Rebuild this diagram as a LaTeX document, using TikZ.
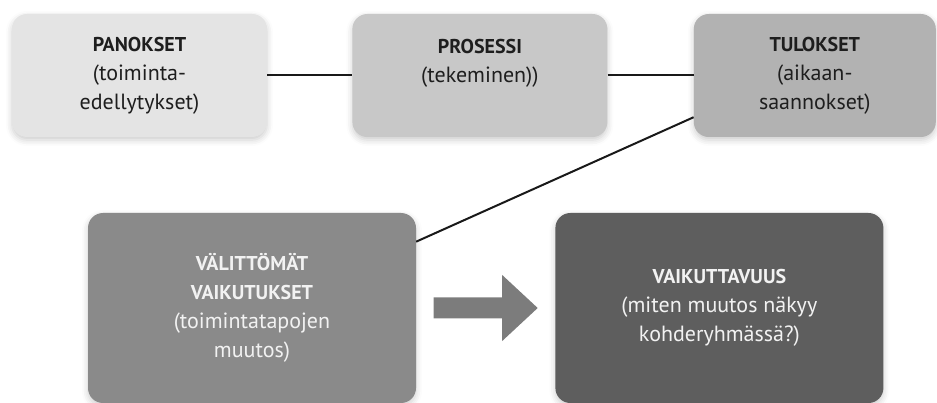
\documentclass[tikz,border=0pt]{standalone}
\usepackage{fontspec}
\setmainfont{PT Sans}
\usetikzlibrary{positioning}
\usetikzlibrary{calc}
\usetikzlibrary{shadows.blur}
\definecolor{panos}{HTML}{E4E4E4}
\definecolor{prosessi}{HTML}{C8C8C8}
\definecolor{tulos}{HTML}{B2B2B2}
\definecolor{valiton}{HTML}{8A8A8A}
\definecolor{vaikutus}{HTML}{5E5E5E}
\definecolor{virta}{HTML}{7C7C7C}
\definecolor{darktext}{HTML}{1E1E1E}
\definecolor{lighttext}{HTML}{F2F2F2}
\newcommand{\stagetitle}[1]{{\bfseries\fontsize{20}{29}\selectfont #1}}
\tikzset {
  stage/.style = {
    rounded corners = 15pt,
    align = center,
    inner sep = 0,
    font = \fontsize{22}{29}\selectfont,
    blur shadow = {shadow xshift = 0pt, shadow yshift = -3pt,
      shadow blur radius = 6pt, shadow opacity = 20}
  },
  % upper row
  upper/.style = {
    stage,
    minimum width = 255pt,
    minimum height = 123pt,
    text = darktext
  },
  % lower row
  lower/.style = {
    stage,
    minimum width = 328pt,
    minimum height = 190pt,
    text = lighttext
  },
  link/.style = {
    draw = black!90,
    line width = 2pt
  },
  flow/.style = {
    fill = virta
  },
  node distance = 85pt
}
\begin{document}
\begin{tikzpicture}[x=1pt, y=1pt]
    \useasboundingbox (0,0) rectangle (937,-403);
    \node[upper, fill=panos] (panokset) at (139.5,-75.5) {\stagetitle{PANOKSET}\\(toiminta-\\edellytykset)};
    \node[upper, fill=prosessi] (prosessi) [right=of panokset] {\stagetitle{PROSESSI}\\(tekeminen))\\\mbox{}};
    \node[upper, fill=tulos, minimum width=242pt] (tulokset) [right=86pt of prosessi] {\stagetitle{TULOKSET}\\(aikaan-\\saannokset)};
    \node[lower, fill=valiton] (valittomat) at (252,-308) {\stagetitle{VÄLITTÖMÄT}\\\stagetitle{VAIKUTUKSET}\\(toimintatapojen\\muutos)};
    \node[lower, fill=vaikutus, yshift=0pt] (vaikuttavuus) [right=139pt of valittomat] {\stagetitle{VAIKUTTAVUUS}\\(miten muutos näkyy\\kohderyhmässä?)};
    \coordinate (virta) at ($(valittomat.east)!0.5!(vaikuttavuus.west)$);

    \draw[link] (panokset) -- (prosessi);
    \draw[link] (prosessi) -- (tulokset);
    \draw[link] (tulokset.199) -- (valittomat.22);

    \fill[flow] ([shift={(-52,10.5)}]virta) -- ([shift={(16.5,10.5)}]virta)
      -- ([shift={(16.5,33)}]virta) -- ([shift={(52,0)}]virta)
      -- ([shift={(16.5,-33)}]virta) -- ([shift={(16.5,-10.5)}]virta)
      -- ([shift={(-52,-10.5)}]virta) -- cycle;
  \end{tikzpicture}
\end{document}
